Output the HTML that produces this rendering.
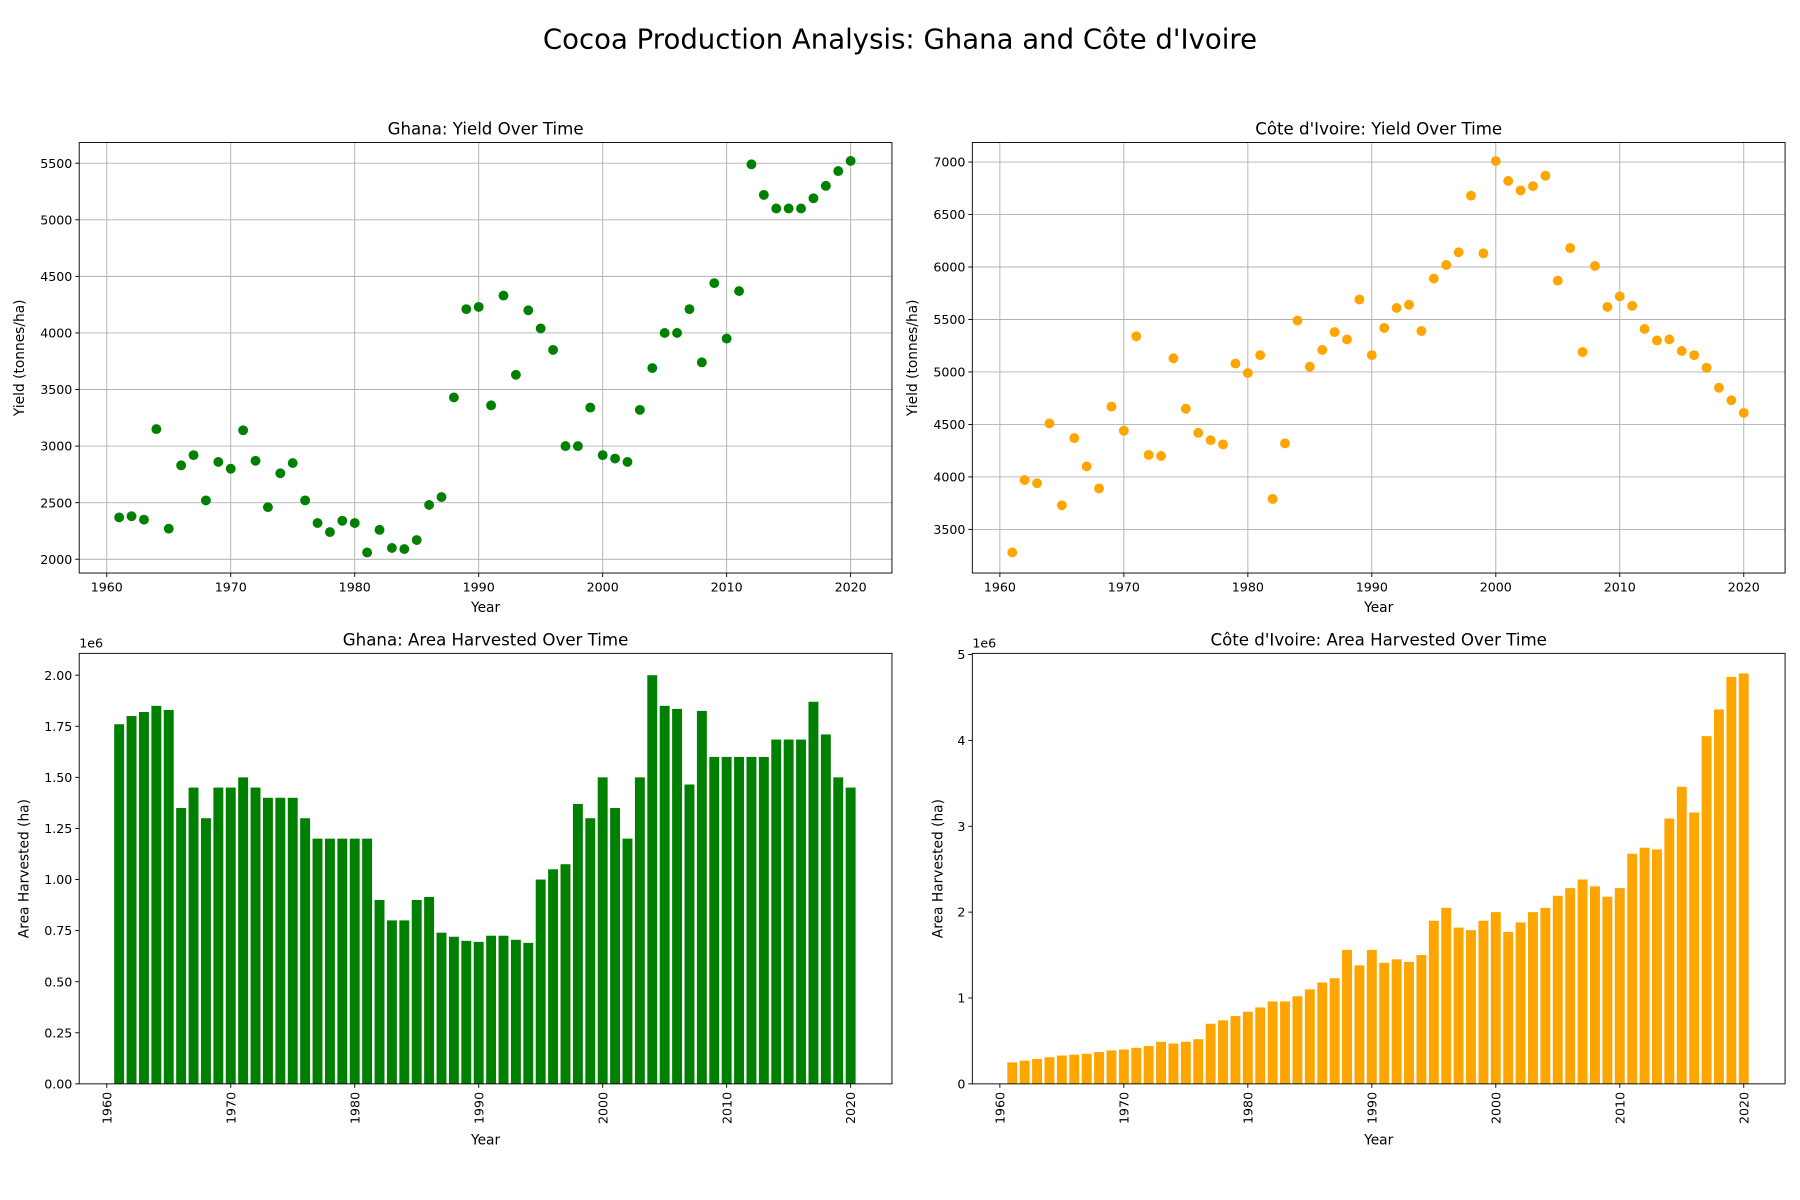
<!DOCTYPE html>
<html><head><meta charset="utf-8"><style>
html,body{margin:0;padding:0;background:#fff}
svg{display:block;font-family:"DejaVu Sans","Liberation Sans",sans-serif}
</style></head><body>
<svg id="chart" width="1800" height="1200" viewBox="0 0 1568 1045" xmlns="http://www.w3.org/2000/svg">
<rect width="1568" height="1045" fill="#fff"/>
<text x="784" y="42" text-anchor="middle" font-size="24">Cocoa Production Analysis: Ghana and Côte d'Ivoire</text>
</svg>
<script>
const years = [];
for (let y = 1961; y <= 2020; y++) years.push(y);
const ghanaYield = [2370,2380,2350,3150,2270,2830,2920,2520,2860,2800,3140,2870,2460,2760,2850,2520,2320,2240,2340,2320,2060,2260,2100,2090,2170,2480,2550,3430,4210,4230,3360,4330,3630,4200,4040,3850,3000,3000,3340,2920,2890,2860,3320,3690,4000,4000,4210,3740,4440,3950,4370,5490,5220,5100,5100,5100,5190,5300,5430,5520];
const civYield = [3280,3970,3940,4510,3730,4370,4100,3890,4670,4440,5340,4210,4200,5130,4650,4420,4350,4310,5080,4990,5160,3790,4320,5490,5050,5210,5380,5310,5690,5160,5420,5610,5640,5390,5890,6020,6140,6680,6130,7010,6820,6730,6770,6870,5870,6180,5190,6010,5620,5720,5630,5410,5300,5310,5200,5160,5040,4850,4730,4610];
const ghanaArea = [1.76,1.80,1.82,1.85,1.83,1.35,1.45,1.30,1.45,1.45,1.50,1.45,1.40,1.40,1.40,1.30,1.20,1.20,1.20,1.20,1.20,0.90,0.80,0.80,0.90,0.915,0.74,0.72,0.70,0.695,0.725,0.725,0.705,0.69,1.00,1.05,1.075,1.37,1.30,1.50,1.35,1.20,1.50,2.00,1.85,1.835,1.465,1.825,1.60,1.60,1.60,1.60,1.60,1.685,1.685,1.685,1.87,1.71,1.50,1.45];
const civArea = [0.25,0.27,0.29,0.31,0.33,0.34,0.35,0.37,0.39,0.40,0.42,0.44,0.49,0.47,0.49,0.52,0.70,0.74,0.79,0.84,0.89,0.96,0.96,1.02,1.10,1.18,1.23,1.56,1.38,1.56,1.41,1.45,1.42,1.50,1.90,2.05,1.82,1.79,1.90,2.00,1.77,1.88,2.00,2.05,2.19,2.28,2.38,2.30,2.18,2.28,2.68,2.75,2.73,3.09,3.46,3.16,4.05,4.36,4.74,4.78];
const xTicks = [1960,1970,1980,1990,2000,2010,2020];
const ghanaYieldTicks = [2000,2500,3000,3500,4000,4500,5000,5500];
const civYieldTicks = [3500,4000,4500,5000,5500,6000,6500,7000];
const ghanaAreaTicks = ["0.00","0.25","0.50","0.75","1.00","1.25","1.50","1.75","2.00"];
const civAreaTicks = ["0","1","2","3","4","5"];

const svg = document.getElementById('chart');
const NS = 'http://www.w3.org/2000/svg';
function el(tag, attrs, parent) {
  const e = document.createElementNS(NS, tag);
  for (const k in attrs) e.setAttribute(k, attrs[k]);
  (parent || svg).appendChild(e);
  return e;
}
function txt(x, y, s, size, anchor, parent, extra) {
  const t = el('text', Object.assign({x: x, y: y, 'font-size': size, 'text-anchor': anchor || 'middle', fill: '#000'}, extra || {}), parent);
  t.textContent = s;
  return t;
}

function panel(cfg) {
  const g = el('g', {});
  
  
  const L = cfg.x0, R = cfg.x1, T = cfg.y0, B = cfg.y1;
  const xs = v => cfg.px1960 + (v - 1960) * (cfg.px2020 - cfg.px1960) / 60;
  const ys = v => cfg.yA + (v - cfg.vA) * (cfg.yB - cfg.yA) / (cfg.vB - cfg.vA);
  if (cfg.grid) {
    xTicks.forEach(t => el('line', {x1: xs(t), x2: xs(t), y1: T, y2: B, stroke: '#b0b0b0', 'stroke-width': 0.8}, g));
    cfg.yTicks.forEach(t => el('line', {x1: L, x2: R, y1: ys(+t), y2: ys(+t), stroke: '#b0b0b0', 'stroke-width': 0.8}, g));
  }
  const marks = el('g', {}, g);
  
  
  cfg.values.forEach((v, i) => {
    if (cfg.type === 'scatter') {
      const c = el('circle', {cx: xs(years[i]), cy: ys(v), r: 4.3, fill: cfg.color}, marks);
      
      
    } else {
      const w = 0.8 * (cfg.px2020 - cfg.px1960) / 60;
      const top = ys(v), base = ys(0);
      const r = el('rect', {x: xs(years[i]) - w / 2, y: top, width: w, height: base - top, fill: cfg.color}, marks);
      
      
    }
  });
  el('rect', {x: L, y: T, width: R - L, height: B - T, fill: 'none', stroke: '#000', 'stroke-width': 0.8}, g);
  xTicks.forEach(t => {
    el('line', {x1: xs(t), x2: xs(t), y1: B, y2: B + 3.5, stroke: '#000', 'stroke-width': 0.8}, g);
    if (cfg.rot) {
      txt(0, 0, String(t), 11, 'end', g, {transform: 'translate(' + (xs(t) + 4) + ',' + (B + 7) + ') rotate(-90)'});
    } else {
      txt(xs(t), B + 16, String(t), 11, 'middle', g);
    }
  });
  cfg.yTicks.forEach(t => {
    el('line', {x1: L - 3.5, x2: L, y1: ys(+t), y2: ys(+t), stroke: '#000', 'stroke-width': 0.8}, g);
    txt(L - 6, ys(+t) + 4, String(t), 11, 'end', g);
  });
  const title = txt((L + R) / 2, T - 7, cfg.title, 14.5, 'middle', g);
  
  
  const xl = txt((L + R) / 2, cfg.rot ? B + 53 : B + 34, 'Year', 12, 'middle', g);
  
  
  const yl = txt(0, 0, cfg.ylabel, 12, 'middle', g, {transform: 'translate(' + cfg.ylx + ',' + ((T + B) / 2) + ') rotate(-90)'});
  
  
  if (cfg.offset) {
    const o = txt(L, T - 5, '1e6', 11, 'start', g);
    
    
  }
}

panel({name: 'ghana-yield-chart', title: 'Ghana: Yield Over Time', type: 'scatter', color: '#008000', values: ghanaYield,
  x0: 69, x1: 777, y0: 124, y1: 499, px1960: 93, px2020: 741, vA: 2000, yA: 487, vB: 5500, yB: 142,
  yTicks: ghanaYieldTicks, grid: true, ylabel: 'Yield (tonnes/ha)', ylx: 21});
panel({name: 'civ-yield-chart', title: "Côte d'Ivoire: Yield Over Time", type: 'scatter', color: '#FFA500', values: civYield,
  x0: 847, x1: 1555, y0: 124, y1: 499, px1960: 871, px2020: 1519, vA: 3500, yA: 461, vB: 7000, yB: 141,
  yTicks: civYieldTicks, grid: true, ylabel: 'Yield (tonnes/ha)', ylx: 799});
panel({name: 'ghana-area-chart', title: 'Ghana: Area Harvested Over Time', type: 'bar', color: '#008000', values: ghanaArea,
  x0: 69, x1: 777, y0: 569, y1: 944, px1960: 93, px2020: 741, vA: 0, yA: 944, vB: 2, yB: 588,
  yTicks: ghanaAreaTicks, grid: false, rot: true, offset: true, ylabel: 'Area Harvested (ha)', ylx: 25});
panel({name: 'civ-area-chart', title: "Côte d'Ivoire: Area Harvested Over Time", type: 'bar', color: '#FFA500', values: civArea,
  x0: 847, x1: 1555, y0: 569, y1: 944, px1960: 871, px2020: 1519, vA: 0, yA: 944, vB: 5, yB: 570,
  yTicks: civAreaTicks, grid: false, rot: true, offset: true, ylabel: 'Area Harvested (ha)', ylx: 821});
</script>
</body></html>
